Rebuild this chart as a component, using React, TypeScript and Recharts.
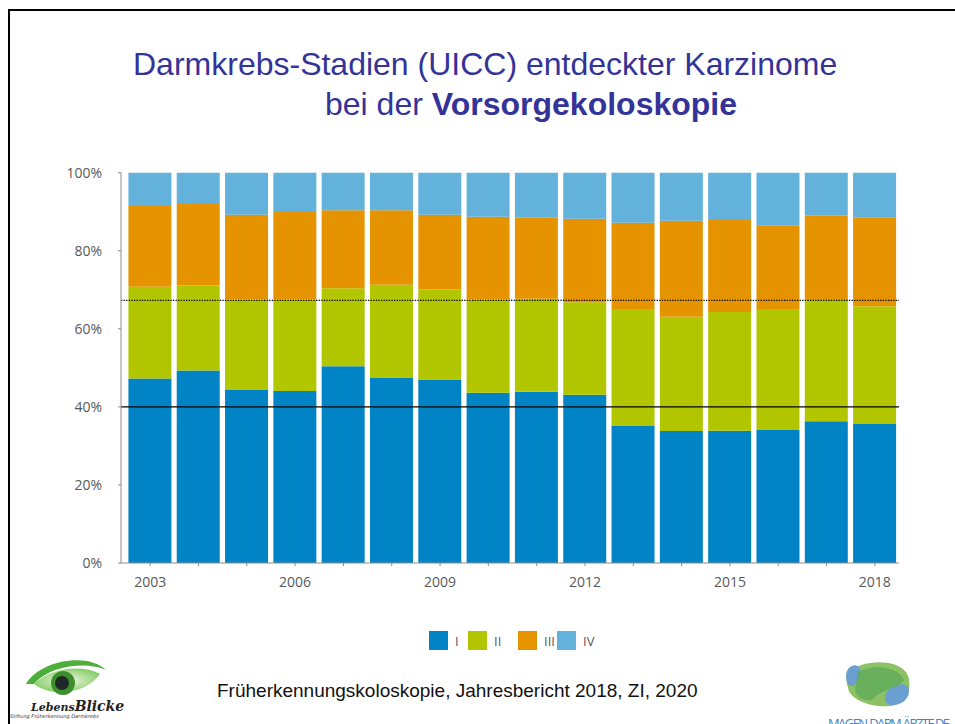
import React from 'react';
import { BarChart, Bar, XAxis, YAxis, Legend, ReferenceLine } from 'recharts';

const years = ['2003', '2004', '2005', '2006', '2007', '2008', '2009', '2010', '2011', '2012', '2013', '2014', '2015', '2016', '2017', '2018'];
const stageI = [47.3, 49.3, 44.3, 44.1, 50.4, 47.5, 47.0, 43.6, 43.9, 43.1, 35.1, 33.8, 33.9, 34.1, 36.3, 35.6];
const stageII = [23.5, 21.8, 23.2, 23.4, 20.0, 23.8, 23.1, 23.9, 23.8, 23.7, 30.0, 29.3, 30.4, 31.0, 31.1, 30.2];
const stageIII = [20.7, 20.9, 21.7, 22.4, 20.0, 19.1, 19.1, 21.2, 20.8, 21.4, 22.1, 24.6, 23.6, 21.3, 21.6, 22.8];
const stageIV = [8.5, 8.0, 10.8, 10.1, 9.6, 9.6, 10.8, 11.3, 11.5, 11.8, 12.8, 12.3, 12.1, 13.6, 11.0, 11.4];
const xTickLabels = ['2003', '2006', '2009', '2012', '2015', '2018'];
const yTicks = [0, 20, 40, 60, 80, 100];
const refSolid = 40;
const refDotted = 67.3;

const data = years.map((y, i) => ({
  year: y,
  I: stageI[i],
  II: stageII[i],
  III: stageIII[i],
  IV: stageIV[i],
}));

const axisColor = '#8c8c8c';
const textColor = '#595959';
const font = '"Open Sans", "DejaVu Sans", sans-serif';
const legendItemWidths = [39, 50, 39, 40];

const renderLegend = (props: any) => {
  const payload = props.payload || [];
  return (
    <div style={{ display: 'flex', alignItems: 'center', fontFamily: font, fontSize: 13, color: textColor }}>
      {payload.map((entry: any, i: number) => (
        <div key={entry.value} style={{ display: 'flex', alignItems: 'center', width: legendItemWidths[i] }}>
          <div style={{ width: 19, height: 19, background: entry.color, marginRight: 7 }} />
          <span style={{ color: textColor }}>{entry.value}</span>
        </div>
      ))}
    </div>
  );
};

export default function App() {
  return (
    <div style={{ position: 'fixed', left: 0, top: 0, width: 955, height: 724, overflow: 'hidden', background: '#fff' }}>
      <div style={{ position: 'absolute', left: 8, top: 9, width: 1000, height: 800, borderLeft: '2px solid #000', borderTop: '2px solid #000' }} />
      <div style={{ position: 'absolute', left: 8, top: 150 }}>
        <BarChart
          width={947}
          height={515}
          data={data}
          margin={{ top: 22.7, right: 56, bottom: 72, left: 0 }}
          barCategoryGap="5%"
        >
          <XAxis
            dataKey="year"
            interval={0}
            tickFormatter={(v) => (xTickLabels.includes(String(v)) ? String(v) : '')}
            tickSize={3}
            tickMargin={11}
            height={30}
            padding={{ left: 5, right: 0 }}
            axisLine={{ stroke: axisColor }}
            tickLine={{ stroke: axisColor }}
            tick={{ fill: textColor, fontSize: 14, fontFamily: font }}
          />
          <YAxis
            domain={[0, 100]}
            ticks={yTicks}
            tickFormatter={(v) => `${v}%`}
            width={113}
            tickSize={3}
            tickMargin={16}
            axisLine={{ stroke: axisColor }}
            tickLine={{ stroke: axisColor }}
            tick={{ fill: textColor, fontSize: 14, fontFamily: font }}
          />
          <Bar dataKey="I" name="I" stackId="s" fill="#0084C6" isAnimationActive={false} />
          <Bar dataKey="II" name="II" stackId="s" fill="#B2C600" isAnimationActive={false} />
          <Bar dataKey="III" name="III" stackId="s" fill="#E59400" isAnimationActive={false} />
          <Bar dataKey="IV" name="IV" stackId="s" fill="#62B2DC" isAnimationActive={false} />
          <ReferenceLine y={refSolid} stroke="#000" strokeWidth={1.3} />
          <ReferenceLine y={refDotted} stroke="#000" strokeWidth={1.2} strokeDasharray="1.3 1.3" />
          <Legend
            layout="horizontal"
            verticalAlign="middle"
            align="center"
            content={renderLegend}
            wrapperStyle={{ position: 'absolute', left: 421, top: 481, width: 200 }}
          />
        </BarChart>
      </div>
      <svg
        width={955}
        height={724}
        style={{ position: 'absolute', left: 0, top: 0, pointerEvents: 'none' }}
      >
        <text x={133} y={75} fontFamily='"Liberation Sans", Arial, sans-serif' fontSize={32} fill="#333399">
          Darmkrebs-Stadien (UICC) entdeckter Karzinome
        </text>
        <text x={325} y={115} fontFamily='"Liberation Sans", Arial, sans-serif' fontSize={32} fill="#333399">
          bei der <tspan fontWeight="bold">Vorsorgekoloskopie</tspan>
        </text>
        <text x={217} y={697} fontFamily='"Liberation Sans", Arial, sans-serif' fontSize={19} fill="#111">
          Früherkennungskoloskopie, Jahresbericht 2018, ZI, 2020
        </text>
        {/* left logo */}
        <defs>
          <radialGradient id="eyeg" cx="50%" cy="50%" r="60%">
            <stop offset="0%" stopColor="#eef8e2" />
            <stop offset="100%" stopColor="#7cc85a" />
          </radialGradient>
        </defs>
        <path d="M26,684 C40,660 88,652 106,670 C88,662 52,664 34,684 Z" fill="#4caf3a" />
        <path d="M34,684 C50,668 82,664 100,674 C86,694 52,698 34,684 Z" fill="url(#eyeg)" />
        <circle cx={63} cy={683} r={12} fill="#3d8f2c" />
        <circle cx={62} cy={683} r={7} fill="#1f2a26" />
        <text x={31} y={711} fontFamily='"DejaVu Serif", serif' fontStyle="italic" fontWeight="bold" fontSize={11} fill="#222">
          Lebens<tspan fontSize={14}>Blicke</tspan>
        </text>
        <text x={10} y={718} fontFamily='"DejaVu Sans", sans-serif' fontStyle="italic" fontSize={5} fill="#333">
          Stiftung Früherkennung Darmkrebs
        </text>
        {/* right logo */}
        <path d="M850,672 C860,660 895,658 906,672 C914,685 908,704 890,706 C872,708 850,700 848,688 C846,680 846,676 850,672 Z" fill="#8cc265" />
        <path d="M846,676 C846,666 856,662 860,668 C862,674 858,684 852,686 C848,686 846,682 846,676 Z" fill="#6a9fcf" />
        <path d="M888,690 C896,682 910,682 909,692 C908,702 898,706 890,705 C884,704 884,696 888,690 Z" fill="#6a9fcf" />
        <path d="M858,672 C872,664 898,666 904,680 C898,690 882,688 872,700 C862,702 852,694 856,684 Z" fill="#5aa85a" opacity={0.7} />
        <text x={828} y={728} fontFamily='"Open Sans", sans-serif' fontSize={13} fill="#4a7fc0" textLength={122}>
          MAGEN-DARM-ÄRZTE.DE
        </text>
      </svg>
    </div>
  );
}
